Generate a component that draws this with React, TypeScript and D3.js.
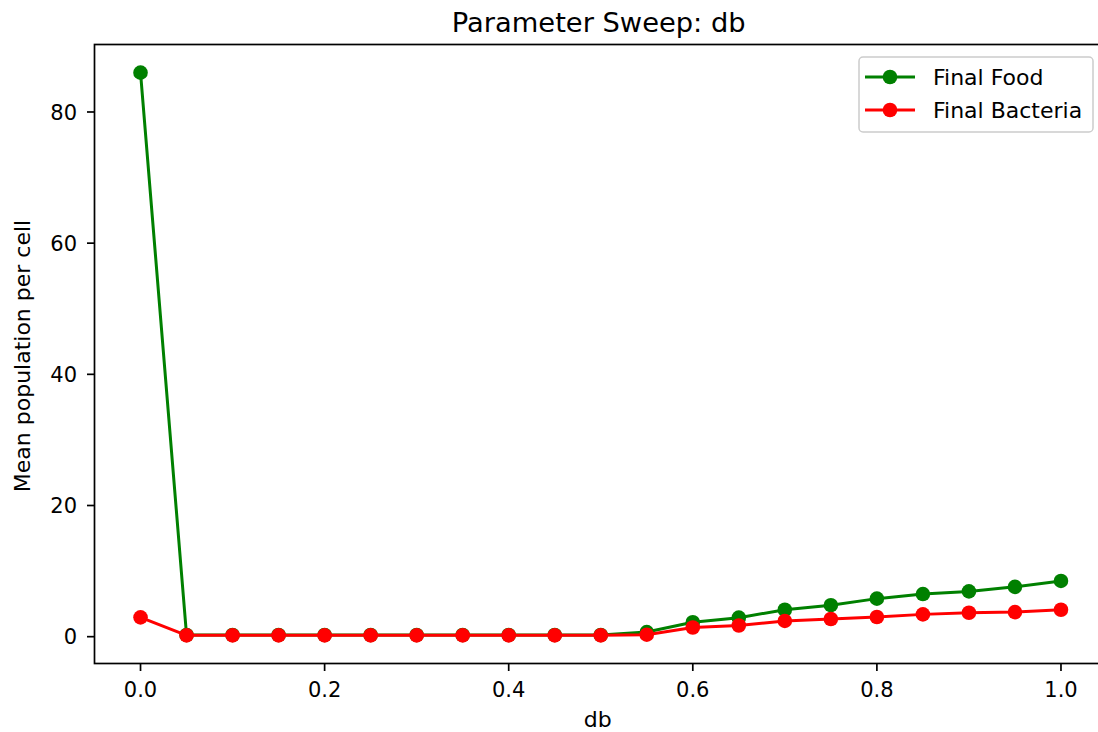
import React from "react";
import * as d3 from "d3";

// Swept parameter values
const dbValues = [0, 0.05, 0.1, 0.15, 0.2, 0.25, 0.3, 0.35, 0.4, 0.45, 0.5, 0.55, 0.6, 0.65, 0.7, 0.75, 0.8, 0.85, 0.9, 0.95, 1.0];
// Mean final populations per cell
const finalFood = [86.0, 0.25, 0.25, 0.25, 0.25, 0.25, 0.25, 0.25, 0.25, 0.25, 0.25, 0.7, 2.2, 2.9, 4.1, 4.8, 5.8, 6.5, 6.9, 7.6, 8.5];
const finalBacteria = [2.95, 0.2, 0.2, 0.2, 0.2, 0.2, 0.2, 0.2, 0.2, 0.2, 0.2, 0.3, 1.4, 1.7, 2.4, 2.7, 3.0, 3.4, 3.65, 3.75, 4.1];
const xTicks = [0, 0.2, 0.4, 0.6, 0.8, 1.0];
const yTicks = [0, 20, 40, 60, 80];

const seriesList = [
  { name: "Final Food", values: finalFood, color: "#008000" },
  { name: "Final Bacteria", values: finalBacteria, color: "#ff0000" },
];

const W = 1098;
const H = 732;
const plot = { left: 94.5, right: 1107, top: 44.5, bottom: 663.5 };
const FONT = "DejaVu Sans, sans-serif";

function padded(lo: number, hi: number): [number, number] {
  const m = (hi - lo) * 0.05;
  return [lo - m, hi + m];
}

export default function App() {
  const allY = [...finalFood, ...finalBacteria];
  const x = d3
    .scaleLinear()
    .domain(padded(d3.min(dbValues)!, d3.max(dbValues)!))
    .range([plot.left, plot.right]);
  const y = d3
    .scaleLinear()
    .domain(padded(d3.min(allY)!, d3.max(allY)!))
    .range([plot.bottom, plot.top]);

  const line = d3
    .line<number>()
    .x((_, i) => x(dbValues[i]))
    .y((v) => y(v));

  const tickLen = 7.5;

  return (
    <svg
      width={W}
      height={H}
      viewBox={`0 0 ${W} ${H}`}
      style={{ position: "absolute", left: 0, top: 0, background: "#fff" }}
    >
      <rect x={0} y={0} width={W} height={H} fill="#fff" />

      {/* title */}
      <text x={(plot.left + plot.right) / 2 - 2} y={31.5} textAnchor="middle" fontFamily={FONT} fontSize={27.3} fill="#000">
        Parameter Sweep: db
      </text>

      {/* series */}
      {seriesList.map((s) => (
        <g key={s.name}>
          <path d={line(s.values) || ""} fill="none" stroke={s.color} strokeWidth={3} strokeLinejoin="round" />
          {s.values.map((v, i) => (
            <circle key={i} cx={x(dbValues[i])} cy={y(v)} r={7.3} fill={s.color} />
          ))}
        </g>
      ))}

      {/* spines */}
      <rect
        x={plot.left}
        y={plot.top}
        width={plot.right - plot.left}
        height={plot.bottom - plot.top}
        fill="none"
        stroke="#000"
        strokeWidth={1.7}
      />

      {/* x axis ticks */}
      {xTicks.map((t) => (
        <g key={t}>
          <line x1={x(t)} x2={x(t)} y1={plot.bottom} y2={plot.bottom + tickLen} stroke="#000" strokeWidth={1.7} />
          <text x={x(t)} y={697} textAnchor="middle" fontFamily={FONT} fontSize={21} fill="#000">
            {d3.format(".1f")(t)}
          </text>
        </g>
      ))}
      <text x={(plot.left + plot.right) / 2 - 3} y={727} textAnchor="middle" fontFamily={FONT} fontSize={22} fill="#000">
        db
      </text>

      {/* y axis ticks */}
      {yTicks.map((t) => (
        <g key={t}>
          <line x1={plot.left - tickLen} x2={plot.left} y1={y(t)} y2={y(t)} stroke="#000" strokeWidth={1.7} />
          <text x={77} y={y(t)} dy="0.36em" textAnchor="end" fontFamily={FONT} fontSize={21} fill="#000">
            {t}
          </text>
        </g>
      ))}
      <text
        transform={`translate(30, ${(plot.top + plot.bottom) / 2 + 2}) rotate(-90)`}
        textAnchor="middle"
        fontFamily={FONT}
        fontSize={22}
        fill="#000"
      >
        Mean population per cell
      </text>

      {/* legend */}
      <g>
        <rect x={859} y={57} width={234} height={75} rx={4} fill="#fff" fillOpacity={0.8} stroke="#cccccc" strokeWidth={1.5} />
        {seriesList.map((s, i) => {
          const cy = 77 + i * 33;
          return (
            <g key={s.name}>
              <line x1={865} x2={915} y1={cy} y2={cy} stroke={s.color} strokeWidth={3} />
              <circle cx={890} cy={cy} r={7.3} fill={s.color} />
              <text x={933} y={cy} dy="0.36em" fontFamily={FONT} fontSize={22} fill="#000">
                {s.name}
              </text>
            </g>
          );
        })}
      </g>
    </svg>
  );
}
